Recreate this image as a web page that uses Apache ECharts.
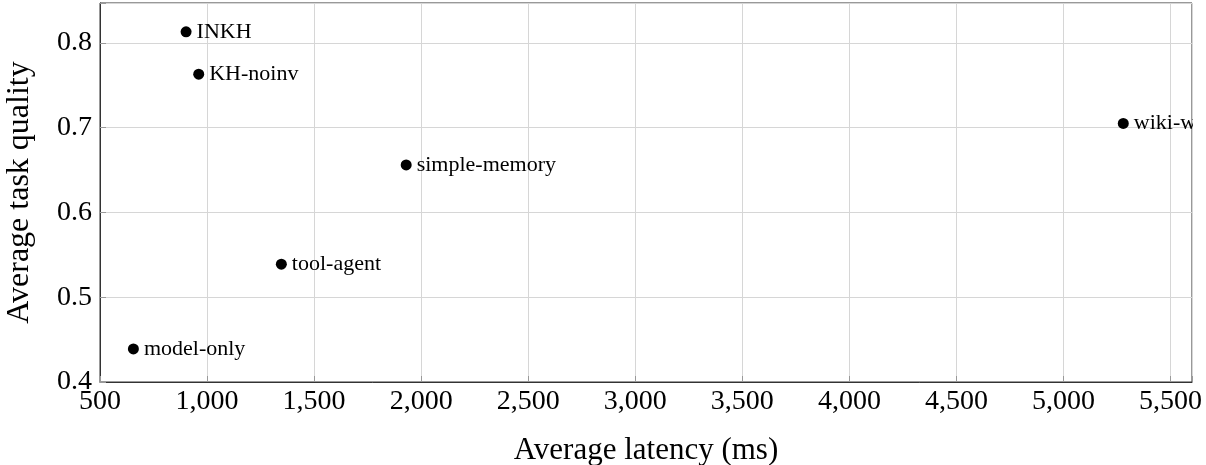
<!DOCTYPE html>
<html><head><meta charset="utf-8">
<script src="https://cdn.jsdelivr.net/npm/echarts@6/dist/echarts.min.js"></script>
<style>html,body{margin:0;padding:0;background:#fff}#c{width:1206px;height:465px}</style>
</head><body><div id="c"></div>
<script>
const names = ['INKH','KH-noinv','wiki-w','simple-memory','tool-agent','model-only'];
const latency = [902, 961, 5279, 1930, 1347, 656];
const quality = [0.813, 0.763, 0.705, 0.656, 0.539, 0.439];
const xTicks = [500,1000,1500,2000,2500,3000,3500,4000,4500,5000,5500];
const yTicks = [0.4,0.5,0.6,0.7,0.8];

const FONT = 'Liberation Serif';
const chart = echarts.init(document.getElementById('c'));
const isTick = (arr, v) => arr.some(t => Math.abs(t - v) < 1e-6);
chart.setOption({
  animation: false,
  grid: {left: 100, right: 14, top: 3, bottom: 83, show: true, borderColor: '#333', borderWidth: 1,
    containLabel: false, outerBoundsMode: 'none'},
  xAxis: {
    type: 'value', min: 500, max: 5600, interval: 500,
    name: 'Average latency (ms)', nameLocation: 'middle', nameGap: 53,
    nameTextStyle: {fontFamily: FONT, fontSize: 31, color: '#000'},
    axisLine: {show: true, lineStyle: {color: '#333'}},
    axisTick: {show: true, inside: true, length: 6, lineStyle: {color: '#999'}},
    splitLine: {show: true, lineStyle: {color: '#d6d6d6', width: 1}},
    axisLabel: {fontFamily: FONT, fontSize: 28, color: '#000', margin: 6,
      formatter: v => isTick(xTicks, v) ? v.toLocaleString('en-US') : ''}
  },
  yAxis: {
    type: 'value', min: 0.4, max: 0.847, interval: 0.1,
    name: 'Average task quality', nameLocation: 'middle', nameGap: 64,
    nameTextStyle: {fontFamily: FONT, fontSize: 32, color: '#000'},
    axisLine: {show: true, lineStyle: {color: '#333'}},
    axisTick: {show: true, inside: true, length: 6, lineStyle: {color: '#999'}},
    splitLine: {show: true, lineStyle: {color: '#d6d6d6', width: 1}},
    axisLabel: {fontFamily: FONT, fontSize: 28, color: '#000', margin: 8,
      formatter: v => isTick(yTicks, v) ? v.toFixed(1) : ''}
  },
  series: [{
    type: 'scatter', symbol: 'circle', symbolSize: 11,
    itemStyle: {color: '#000', opacity: 1},
    data: latency.map((x, i) => ({value: [x, quality[i]], name: names[i]})),
    label: {show: true, position: 'right', distance: 5, formatter: p => p.name,
      fontFamily: FONT, fontSize: 22, color: '#000', opacity: 1}
  }],
  graphic: [{type: 'rect', z: 100, shape: {x: 1193, y: 0, width: 20, height: 381}, style: {fill: '#fff'}}]
});
</script></body></html>
